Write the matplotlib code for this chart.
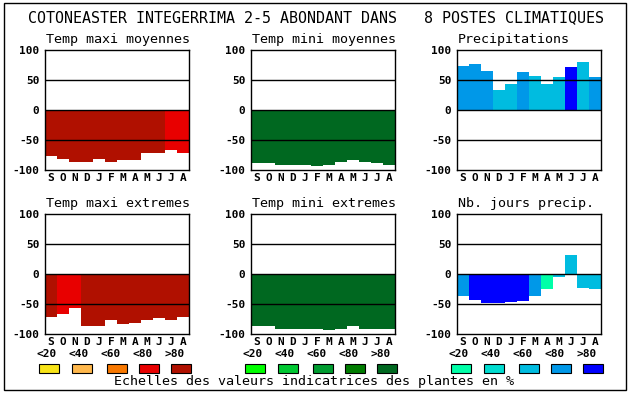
import numpy as np
import matplotlib
matplotlib.use("Agg")
import matplotlib.pyplot as plt
from matplotlib.patches import Rectangle

W, H = 630, 394
MONO = "DejaVu Sans Mono"

months = ["S", "O", "N", "D", "J", "F", "M", "A", "M", "J", "J", "A"]
scale_labels = ["<20", "<40", "<60", "<80", ">80"]

# colour scales (<20 .. >80)
reds = ["#f8e418", "#ffb84c", "#f87800", "#e80000", "#b01000"]
greens = ["#00ff00", "#00c832", "#009c30", "#007c00", "#006820"]
blues = ["#00ffa8", "#00dcd0", "#00bce0", "#0098e8", "#0000ff"]

# values, with the colour class (0..4) of each bar
maxi_moy = [-76, -81, -86, -86, -82, -86, -84, -84, -72, -71, -66, -71]
maxi_moy_cls = [4, 4, 4, 4, 4, 4, 4, 4, 4, 4, 3, 3]
mini_moy = [-88, -88, -91, -91, -91, -93, -91, -86, -84, -86, -88, -91]
mini_moy_cls = [4] * 12
precip = [74, 77, 65, 34, 44, 64, 57, 44, 55, 72, 80, 55]
precip_cls = [3, 3, 3, 2, 2, 3, 2, 2, 2, 4, 2, 3]
maxi_ext = [-72, -67, -56, -86, -87, -76, -84, -82, -76, -74, -76, -71]
maxi_ext_cls = [4, 3, 3, 4, 4, 4, 4, 4, 4, 4, 4, 4]
mini_ext = [-87, -87, -91, -91, -91, -92, -94, -92, -87, -91, -92, -92]
mini_ext_cls = [4] * 12
jours = [-37, -44, -49, -49, -47, -45, -37, -25, -5, 32, -24, -25]
jours_cls = [3, 4, 4, 4, 4, 4, 3, 0, 2, 2, 2, 2]

panels = [
    ("Temp maxi moyennes", maxi_moy, maxi_moy_cls, reds, 45, 50),
    ("Temp mini moyennes", mini_moy, mini_moy_cls, greens, 251, 50),
    ("Precipitations", precip, precip_cls, blues, 457, 50),
    ("Temp maxi extremes", maxi_ext, maxi_ext_cls, reds, 45, 214),
    ("Temp mini extremes", mini_ext, mini_ext_cls, greens, 251, 214),
    ("Nb. jours precip.", jours, jours_cls, blues, 457, 214),
]


def fx(px):
    return px / W


def fy(py):
    return 1 - py / H


fig = plt.figure(figsize=(W / 100, H / 100), dpi=100)
fig.patch.set_facecolor("white")

# outer frame
fig.add_artist(Rectangle((fx(4), fy(390)), fx(622), 387 / H, transform=fig.transFigure,
                         fill=False, edgecolor="black", lw=1.0))

fig.text(fx(316), fy(18), "COTONEASTER INTEGERRIMA 2-5 ABONDANT DANS   8 POSTES CLIMATIQUES",
         ha="center", va="center", family=MONO, fontsize=10.8)

aw, ah = 144, 120
for title, vals, cls, pal, left, top in panels:
    ax = fig.add_axes([fx(left), fy(top + ah), aw / W, ah / H])
    x = np.arange(12)
    ax.bar(x, vals, width=1.0, color=[pal[c] for c in cls], linewidth=0, zorder=1)
    for yv in (50, 0, -50):
        ax.axhline(yv, color="black", lw=1.0, zorder=2)
    ax.set_xlim(-0.5, 11.5)
    ax.set_ylim(-100, 100)
    ax.set_xticks(x)
    ax.set_xticklabels(months, family=MONO, fontweight="bold", fontsize=8)
    ax.set_yticks([-100, -50, 0, 50, 100])
    ax.set_yticklabels(["-100", "-50", "0", "50", "100"], family=MONO,
                       fontweight="bold", fontsize=8)
    ax.tick_params(length=0, pad=2.5)
    ax.tick_params(axis="y", pad=4)
    for s in ax.spines.values():
        s.set_linewidth(1.0)
    fig.text(fx(left + 1), fy(top - 11), title, ha="left", va="center",
             family=MONO, fontsize=9.6)

    # scale labels under the bottom row and legend boxes
    if top == 214:
        for i, lab in enumerate(scale_labels):
            fig.text(fx(left + 2 + 32 * i), fy(354), lab, ha="center", va="center",
                     family=MONO, fontweight="bold", fontsize=8)
        box_off = [-6, 27, 62, 94, 126]
        for i, off in enumerate(box_off):
            fig.add_artist(Rectangle((fx(left + off), fy(373)), 20 / W, 9 / H,
                                     transform=fig.transFigure, facecolor=pal[i],
                                     edgecolor="black", lw=0.8))

fig.text(fx(314), fy(382), "Echelles des valeurs indicatrices des plantes en %",
         ha="center", va="center", family=MONO, fontsize=9.6)

fig.savefig("out.png", dpi=100)
